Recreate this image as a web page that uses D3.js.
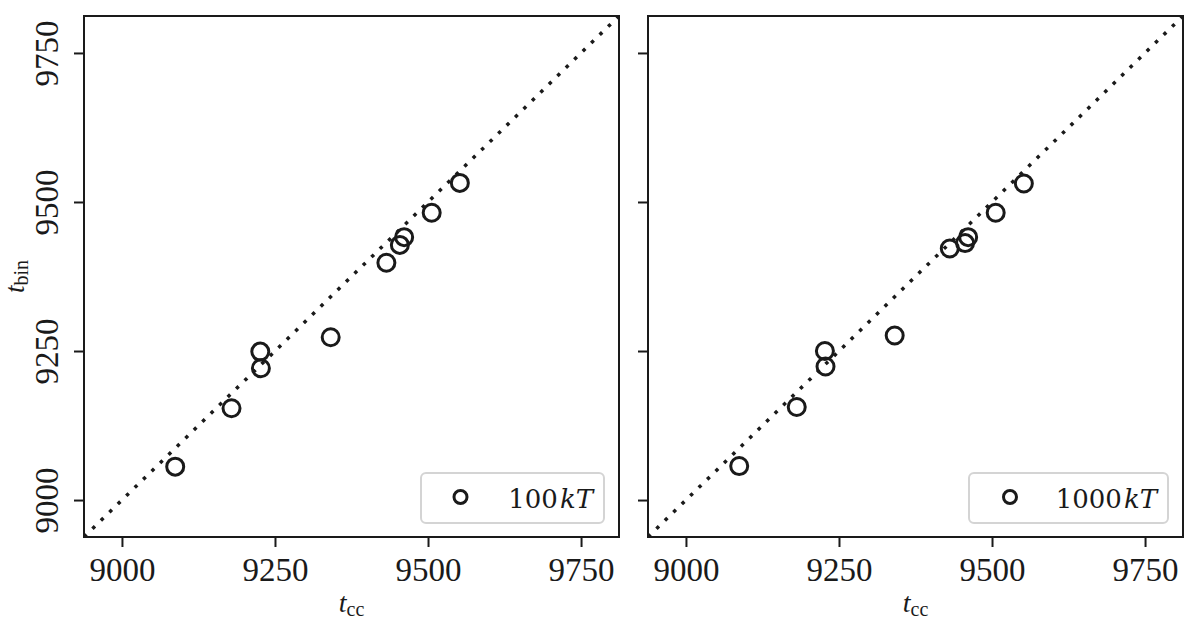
<!DOCTYPE html>
<html>
<head>
<meta charset="utf-8">
<script src="https://cdn.jsdelivr.net/npm/d3@7"></script>
<style>
  body { margin: 0; background: #fff; }
  svg text { font-family: "Liberation Serif", serif; fill: #1a1a1a; }
</style>
</head>
<body>
<div id="chart"></div>
<script>

// data
var tCc100   = [9087, 9179, 9226, 9227, 9341, 9432, 9454, 9461, 9506, 9552];
var tBin100  = [9056, 9154, 9249, 9221, 9273, 9398, 9428, 9441, 9482, 9532];
var tCc1000  = [9087, 9181, 9227, 9228, 9341, 9431, 9456, 9461, 9506, 9552];
var tBin1000 = [9057, 9156, 9250, 9224, 9276, 9422, 9431, 9441, 9482, 9531];
var tickVals = [9000, 9250, 9500, 9750];
var limits   = [8938, 9812];
var panels = [
  { xs: tCc100, ys: tBin100, legend: "100" },
  { xs: tCc1000, ys: tBin1000, legend: "1000" }
];

var W = 1200, H = 623;
var pw = 535, ph = 521, marginTop = 16;
var lefts = [84, 648];

var svg = d3.select("#chart").append("svg")
    .attr("width", W)
    .attr("height", H);

var x = d3.scaleLinear().domain(limits).range([0, pw]);
var y = d3.scaleLinear().domain(limits).range([ph, 0]);

panels.forEach(function(p, i) {
  var g = svg.append("g")
      .attr("transform", "translate(" + lefts[i] + "," + marginTop + ")");

  g.append("clipPath").attr("id", "clip" + i)
    .append("rect").attr("width", pw).attr("height", ph);

  // diagonal y = x
  g.append("line")
      .attr("clip-path", "url(#clip" + i + ")")
      .attr("x1", x(limits[0])).attr("y1", y(limits[0]))
      .attr("x2", x(limits[1])).attr("y2", y(limits[1]))
      .attr("stroke", "#1a1a1a")
      .attr("stroke-width", 3.5)
      .attr("stroke-dasharray", "3.5,8.3");

  // points
  g.selectAll(".pt")
      .data(p.xs.map(function(v, k) { return [v, p.ys[k]]; }))
    .enter().append("circle")
      .attr("class", "pt")
      .attr("cx", function(d) { return x(d[0]); })
      .attr("cy", function(d) { return y(d[1]); })
      .attr("r", 8.5)
      .attr("fill", "none")
      .attr("stroke", "#1a1a1a")
      .attr("stroke-width", 3);

  // axes
  var xa = g.append("g")
      .attr("transform", "translate(0," + ph + ")")
      .call(d3.axisBottom(x).tickValues(tickVals).tickSize(10).tickFormat(d3.format("d")));
  xa.select(".domain").remove();
  xa.selectAll("line").attr("stroke", "#1a1a1a").attr("stroke-width", 2);
  xa.selectAll("text")
      .attr("y", 44).attr("dy", null)
      .style("font-size", "33px")
      .attr("fill", "#1a1a1a");

  var ya = g.append("g")
      .call(d3.axisLeft(y).tickValues(tickVals).tickSize(10)
        .tickFormat(i === 0 ? d3.format("d") : function() { return ""; }));
  ya.select(".domain").remove();
  ya.selectAll("line").attr("stroke", "#1a1a1a").attr("stroke-width", 2);
  ya.selectAll("text")
      .attr("x", 0).attr("y", 0).attr("dy", null)
      .attr("transform", "translate(-26,0) rotate(-90)")
      .attr("text-anchor", "middle")
      .style("font-size", "33px")
      .attr("fill", "#1a1a1a");

  // frame
  g.append("rect")
      .attr("width", pw).attr("height", ph)
      .attr("fill", "none")
      .attr("stroke", "#1a1a1a")
      .attr("stroke-width", 2);

  // legend
  var lw = i === 0 ? 183 : 199;
  var lg = g.append("g").attr("transform", "translate(" + (520 - lw) + ",457)");
  lg.append("rect")
      .attr("width", lw).attr("height", 50)
      .attr("rx", 5).attr("ry", 5)
      .attr("fill", "#fff")
      .attr("fill-opacity", 0.8)
      .attr("stroke", "#d4d4d4")
      .attr("stroke-width", 2);
  lg.append("circle")
      .attr("cx", i === 0 ? 39.5 : 41).attr("cy", 24)
      .attr("r", 6.5)
      .attr("fill", "none")
      .attr("stroke", "#1a1a1a")
      .attr("stroke-width", 3);
  var lt = lg.append("text")
      .attr("x", lw - 11).attr("y", 35)
      .attr("text-anchor", "end")
      .style("font-family", "'DejaVu Serif', serif")
      .style("font-size", "26px");
  lt.append("tspan").text(p.legend);
  lt.append("tspan").attr("dx", 2).style("font-style", "italic").text("kT");

  // x label
  var xl = g.append("text")
      .attr("x", pw / 2).attr("y", 596)
      .attr("text-anchor", "middle")
      .style("font-size", "28px");
  xl.append("tspan").style("font-style", "italic").text("t");
  xl.append("tspan").attr("dy", 4).style("font-size", "20px").text("cc");
});

// y label
var yl = svg.append("text")
    .attr("transform", "translate(24," + (marginTop + ph / 2) + ") rotate(-90)")
    .attr("text-anchor", "middle")
    .style("font-size", "27px");
yl.append("tspan").style("font-style", "italic").text("t");
yl.append("tspan").attr("dy", 4).style("font-size", "20px").text("bin");

</script>
</body>
</html>
